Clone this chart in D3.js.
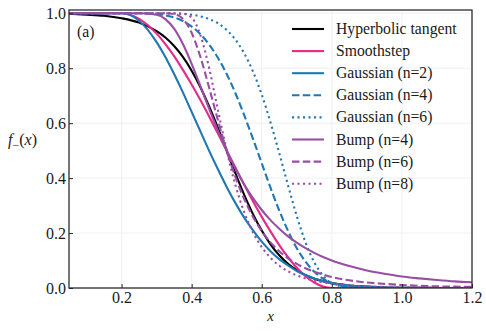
<!DOCTYPE html>
<html>
<head>
<meta charset="utf-8">
<script src="https://cdn.jsdelivr.net/npm/d3@7"></script>
<style>
  html, body { margin: 0; padding: 0; background: #fff; }
  svg { display: block; }
  svg text { font-family: "Liberation Serif", "Times New Roman", "DejaVu Serif", serif; fill: #1a1a1a; }
</style>
</head>
<body>
<svg id="chart" width="486" height="331" font-family="Liberation Serif, DejaVu Serif, serif"></svg>
<script>
// ---- data ----
const xs = [0.05, 0.1, 0.15, 0.2, 0.25, 0.3, 0.325, 0.35, 0.375, 0.4, 0.425, 0.45, 0.475, 0.5,
            0.525, 0.55, 0.575, 0.6, 0.625, 0.65, 0.675, 0.7, 0.725, 0.75, 0.775, 0.8,
            0.85, 0.9, 0.95, 1.0, 1.05, 1.1, 1.15, 1.2];

const tanhVals = [0.998, 0.995, 0.991, 0.982, 0.966, 0.935, 0.912, 0.881, 0.841, 0.791, 0.731, 0.661, 0.583, 0.500,
                  0.417, 0.339, 0.269, 0.209, 0.159, 0.119, 0.088, 0.065, 0.047, 0.034, 0.025, 0.018,
                  0.009, 0.005, 0.002, 0.001, 0.001, 0.000, 0.000, 0.000];
const smoothVals = [1, 1, 1, 1, 0.980, 0.926, 0.888, 0.844, 0.794, 0.741, 0.684, 0.624, 0.562, 0.500,
                    0.438, 0.376, 0.316, 0.259, 0.206, 0.156, 0.112, 0.074, 0.043, 0.020, 0.005, 0,
                    0, 0, 0, 0, 0, 0, 0, 0];
const gauss2Vals = [1, 1, 1, 1, 0.973, 0.895, 0.841, 0.779, 0.712, 0.641, 0.570, 0.499, 0.432, 0.368,
                    0.309, 0.256, 0.210, 0.169, 0.134, 0.105, 0.082, 0.062, 0.047, 0.035, 0.025, 0.018,
                    0.009, 0.004, 0.002, 0.001, 0.000, 0, 0, 0];
const gauss4Vals = [1, 1, 1, 1, 1.000, 0.997, 0.992, 0.985, 0.972, 0.952, 0.924, 0.886, 0.838, 0.779,
                    0.709, 0.629, 0.543, 0.454, 0.365, 0.282, 0.208, 0.145, 0.096, 0.059, 0.034, 0.018,
                    0.004, 0.001, 0, 0, 0, 0, 0, 0];
const gauss6Vals = [1, 1, 1, 1, 1, 1.000, 1.000, 0.999, 0.998, 0.995, 0.989, 0.979, 0.964, 0.939,
                    0.904, 0.854, 0.788, 0.704, 0.603, 0.491, 0.374, 0.262, 0.166, 0.093, 0.045, 0.018,
                    0.002, 0, 0, 0, 0, 0, 0, 0];
const bump4Vals = [1, 1, 1, 1, 1.000, 0.995, 0.979, 0.944, 0.888, 0.816, 0.735, 0.652, 0.573, 0.500,
                   0.435, 0.377, 0.327, 0.284, 0.247, 0.216, 0.188, 0.165, 0.145, 0.128, 0.113, 0.100,
                   0.080, 0.064, 0.052, 0.042, 0.035, 0.029, 0.024, 0.021];
const bump6Vals = [1, 1, 1, 1, 1, 1.000, 1.000, 0.997, 0.980, 0.929, 0.841, 0.729, 0.611, 0.500,
                   0.404, 0.324, 0.259, 0.207, 0.166, 0.134, 0.108, 0.088, 0.072, 0.059, 0.049, 0.040,
                   0.028, 0.020, 0.015, 0.011, 0.008, 0.006, 0.005, 0.004];
const bump8Vals = [1, 1, 1, 1, 1, 1, 1, 1.000, 0.999, 0.984, 0.921, 0.800, 0.648, 0.500,
                   0.374, 0.276, 0.203, 0.149, 0.110, 0.081, 0.061, 0.046, 0.035, 0.027, 0.021, 0.016,
                   0.010, 0.006, 0.004, 0.003, 0.002, 0.001, 0.001, 0.001];

const seriesNames = ["Hyperbolic tangent", "Smoothstep", "Gaussian (n=2)", "Gaussian (n=4)", "Gaussian (n=6)",
                     "Bump (n=4)", "Bump (n=6)", "Bump (n=8)"];
const seriesValues = [tanhVals, smoothVals, gauss2Vals, gauss4Vals, gauss6Vals, bump4Vals, bump6Vals, bump8Vals];
const seriesColors = ["#000000", "#e7298a", "#1f78b4", "#1f78b4", "#1f78b4", "#984ea3", "#984ea3", "#984ea3"];
const seriesDash = [null, null, null, "7.5,3.3", "2.1,3.4", null, "7.5,3.3", "2.1,3.4"];

const xTicks = [0.2, 0.4, 0.6, 0.8, 1.0, 1.2];
const yTicks = [0.0, 0.2, 0.4, 0.6, 0.8, 1.0];

// ---- layout ----
const FONT = "'Liberation Serif', 'Times New Roman', 'DejaVu Serif', serif";
const svg = d3.select("#chart");
const L = 69, R = 472, T = 10, B = 288;
const x = d3.scaleLinear().domain([0.05, 1.2]).range([L, R]);
const y = d3.scaleLinear().domain([0, 1.012]).range([B, T]);

// grid
const grid = svg.append("g");
grid.selectAll(".gx").data(xTicks).join("line")
  .attr("x1", d => x(d)).attr("x2", d => x(d)).attr("y1", T).attr("y2", B)
  .attr("stroke", "#ececec").attr("stroke-width", 0.8);
grid.selectAll(".gy").data(yTicks).join("line")
  .attr("x1", L).attr("x2", R).attr("y1", d => y(d)).attr("y2", d => y(d))
  .attr("stroke", "#ececec").attr("stroke-width", 0.8);

// clip
svg.append("clipPath").attr("id", "clip").append("rect")
  .attr("x", L).attr("y", T).attr("width", R - L).attr("height", B - T);

const line = d3.line().curve(d3.curveMonotoneX).x(d => x(d[0])).y(d => y(d[1]));

const plot = svg.append("g").attr("clip-path", "url(#clip)");
seriesValues.forEach((vals, i) => {
  const pts = xs.map((xv, j) => [xv, vals[j]]);
  plot.append("path").datum(pts)
    .attr("d", line)
    .attr("fill", "none")
    .attr("stroke", seriesColors[i])
    .attr("stroke-width", 2.1)
    .attr("stroke-dasharray", seriesDash[i])
    .attr("stroke-linejoin", "round");
});

// axes
const xAxis = d3.axisBottom(x).tickValues(xTicks).tickFormat(d3.format(".1f")).tickSizeInner(-4).tickSizeOuter(0).tickPadding(4);
const yAxis = d3.axisLeft(y).tickValues(yTicks).tickFormat(d3.format(".1f")).tickSizeInner(-4).tickSizeOuter(0).tickPadding(3);
const gx = svg.append("g").attr("transform", `translate(0,${B})`).call(xAxis);
const gy = svg.append("g").attr("transform", `translate(${L},0)`).call(yAxis);
[gx, gy].forEach(g => {
  g.attr("font-family", null).attr("font-size", null);
  g.select(".domain").remove();
  g.selectAll(".tick line").attr("stroke", "#262626").attr("stroke-width", 1);
  g.selectAll(".tick text").style("font-family", FONT).style("font-size", "16px").attr("fill", "#1a1a1a");
});

// frame
svg.append("rect").attr("x", L).attr("y", T).attr("width", R - L).attr("height", B - T)
  .attr("fill", "none").attr("stroke", "#262626").attr("stroke-width", 1.25);

// legend
const lg = svg.append("g");
seriesNames.forEach((name, i) => {
  const yy = 29 + i * 22.1;
  lg.append("line").attr("x1", 292).attr("x2", 324).attr("y1", yy).attr("y2", yy)
    .attr("stroke", seriesColors[i]).attr("stroke-width", 2.1)
    .attr("stroke-dasharray", seriesDash[i]);
  lg.append("text").attr("x", 336).attr("y", yy + 5).style("font-family", FONT).style("font-size", "15.7px").text(name);
});

// panel tag
svg.append("text").attr("x", 77).attr("y", 37).style("font-family", FONT).style("font-size", "15.7px").text("(a)");

// axis labels
svg.append("text").attr("x", 270.5).attr("y", 321).attr("text-anchor", "middle")
  .style("font-family", FONT).style("font-size", "15px").style("font-style", "italic").text("x");
const yl = svg.append("text").attr("x", 8).attr("y", 145).style("font-family", FONT).style("font-size", "16px");
yl.append("tspan").style("font-style", "italic").text("f");
yl.append("tspan").attr("dy", 4).style("font-size", "12px").text("\u2212");
yl.append("tspan").attr("dy", -4).text("(");
yl.append("tspan").style("font-style", "italic").text("x");
yl.append("tspan").text(")");
</script>
</body>
</html>
